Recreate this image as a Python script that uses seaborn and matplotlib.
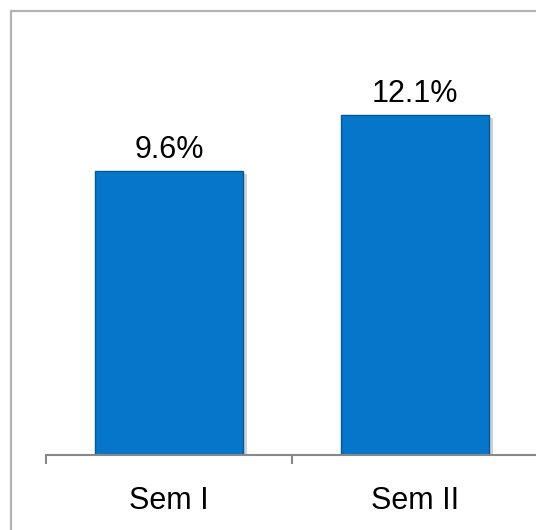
import matplotlib
matplotlib.use("Agg")
import matplotlib.pyplot as plt
import matplotlib.patches as mpatches
import matplotlib.patheffects as pe
import seaborn as sns
import numpy as np

categories = ["Sem I", "Sem II"]
values = [9.6, 12.1]
value_labels = ["9.6%", "12.1%"]

AXIS_MIN = -3.19
AXIS_MAX = 15.95

sns.set_theme(style="white")
plt.rcParams['font.family'] = ['Liberation Sans', 'DejaVu Sans']

W, H = 536, 530
fig = plt.figure(figsize=(W / 100, H / 100), dpi=100)
fig.patch.set_facecolor("white")

ax = fig.add_axes([46 / W, (H - 455) / H, 1.0 - 46 / W + 0.004, (455 - 30) / H])

heights = np.array(values) - AXIS_MIN
sns.barplot(x=categories, y=heights, bottom=AXIS_MIN, color="#0676CA",
            width=0.6, saturation=1, edgecolor="#045896", linewidth=1.0, ax=ax)

for p in ax.patches:
    p.set_path_effects([pe.SimplePatchShadow(offset=(3, -2), shadow_rgbFace="#808080", alpha=0.35),
                        pe.Normal()])

for p, lab in zip(ax.patches, value_labels):
    ax.annotate(lab, (p.get_x() + p.get_width() / 2, p.get_y() + p.get_height()),
                xytext=(0, 9.4), textcoords="offset points", ha="center", va="baseline",
                fontsize=22, color="black")

ax.set_xlim(-0.5, 1.5)
ax.set_ylim(AXIS_MIN, AXIS_MAX)
ax.set_yticks([])
for s in ["top", "right", "left"]:
    ax.spines[s].set_visible(False)
ax.spines["bottom"].set_color("#888888")
ax.spines["bottom"].set_linewidth(1.5)
ax.set_xticks([-0.5, 0.5, 1.5], minor=True)
ax.tick_params(axis="x", which="minor", length=6.5, width=1.5, color="#888888", direction="out", bottom=True)
ax.tick_params(axis="x", which="major", length=0, pad=22, labelsize=22, labelcolor="black")
ax.set_xlabel("")
ax.set_ylabel("")
ax.set_facecolor("none")

border = mpatches.Rectangle((11 / W, -0.1), 1.2, (H - 11) / H + 0.1, transform=fig.transFigure,
                            fill=False, edgecolor="#b3b3b3", linewidth=1.6, clip_on=False)
fig.patches.append(border)

fig.savefig("out.png", dpi=100, facecolor="white")
